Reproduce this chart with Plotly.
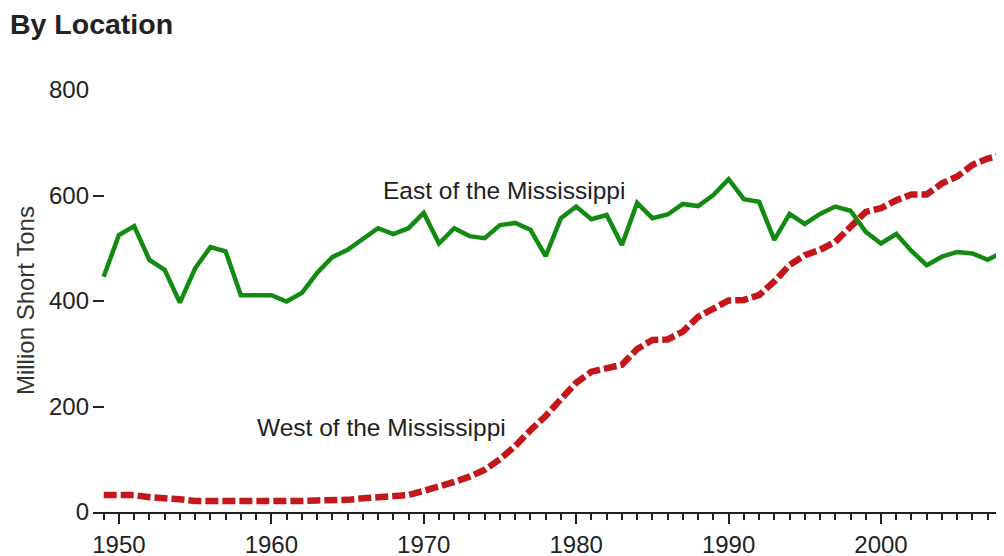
import plotly.graph_objects as go

years = list(range(1949, 2009))

east = [446, 525, 542, 478, 459, 397, 462, 502, 494, 411,
        411, 411, 399, 415, 453, 483, 497, 517, 538, 527,
        538, 567, 509, 538, 523, 519, 544, 548, 535, 485,
        557, 579, 555, 563, 506, 586, 557, 564, 584, 580,
        601, 631, 593, 588, 516, 565, 546, 565, 579, 571,
        531, 509, 527, 495, 468, 484, 493, 490, 478, 493]

west = [32, 33, 32, 28, 27, 24, 21, 21, 21, 18,
        18, 18, 18, 21, 22, 22, 23, 26, 28, 28,
        32, 40, 47, 57, 67, 80, 100, 125, 155, 182,
        214, 245, 266, 272, 279, 309, 326, 327, 342, 370,
        386, 401, 402, 411, 437, 468, 487, 497, 512, 542,
        569, 576, 591, 602, 602, 623, 636, 658, 670, 677]

y_ticks = [0, 200, 400, 600, 800]
x_ticks = [1950, 1960, 1970, 1980, 1990, 2000]

FONT = "Liberation Sans, Arial, sans-serif"

fig = go.Figure()
fig.add_trace(go.Scatter(
    x=years, y=west, mode="lines",
    line=dict(color="#c4171b", width=6.5, dash="13px,4px"),
    name="West of the Mississippi"
))
fig.add_trace(go.Scatter(
    x=years, y=east, mode="lines",
    line=dict(color="#138b13", width=4.5),
    name="East of the Mississippi"
))

# series labels
fig.add_annotation(x=1975.26, y=610, text="East of the Mississippi",
                   showarrow=False, font=dict(size=24.5, color="#222"))
fig.add_annotation(x=1967.26, y=161, text="West of the Mississippi",
                   showarrow=False, font=dict(size=24.5, color="#222"))
# y axis title
fig.add_annotation(x=-0.0746, xref="paper", xanchor="center",
                   y=0.5, yref="paper", yanchor="middle",
                   text="Million Short Tons", textangle=-90, showarrow=False,
                   font=dict(size=24, color="#333"))

# the page body adds an 8px offset, so margins are trimmed to match
fig.update_layout(
    width=1004, height=556,
    margin=dict(l=85, r=8, t=82, b=52),
    plot_bgcolor="white",
    paper_bgcolor="white",
    showlegend=False,
    font=dict(family=FONT, size=24, color="#222"),
    title=dict(
        text="<b>By Location</b>",
        x=0.002, xanchor="left", xref="container",
        y=0.99, yanchor="top", yref="container",
        pad=dict(l=0, t=0),
        font=dict(size=28.5, color="#222")
    ),
    xaxis=dict(
        range=[1948.3, 2008.07],
        tickvals=x_ticks,
        ticks="outside", ticklen=10, tickwidth=2, tickcolor="#222",
        showline=True, linecolor="#222", linewidth=2,
        showgrid=False, zeroline=False, automargin=False,
        minor=dict(dtick=1, tick0=1949, ticks="outside", ticklen=6,
                   tickwidth=2, tickcolor="#222", showgrid=False),
        tickfont=dict(size=24)
    ),
    yaxis=dict(
        range=[0, 800],
        tickvals=y_ticks,
        ticks="inside", ticklen=11, tickwidth=2, tickcolor="#222",
        showline=False, showgrid=False, zeroline=False, automargin=False,
        ticklabelstandoff=3,
        tickfont=dict(size=24)
    )
)

fig.write_html("out.html")
